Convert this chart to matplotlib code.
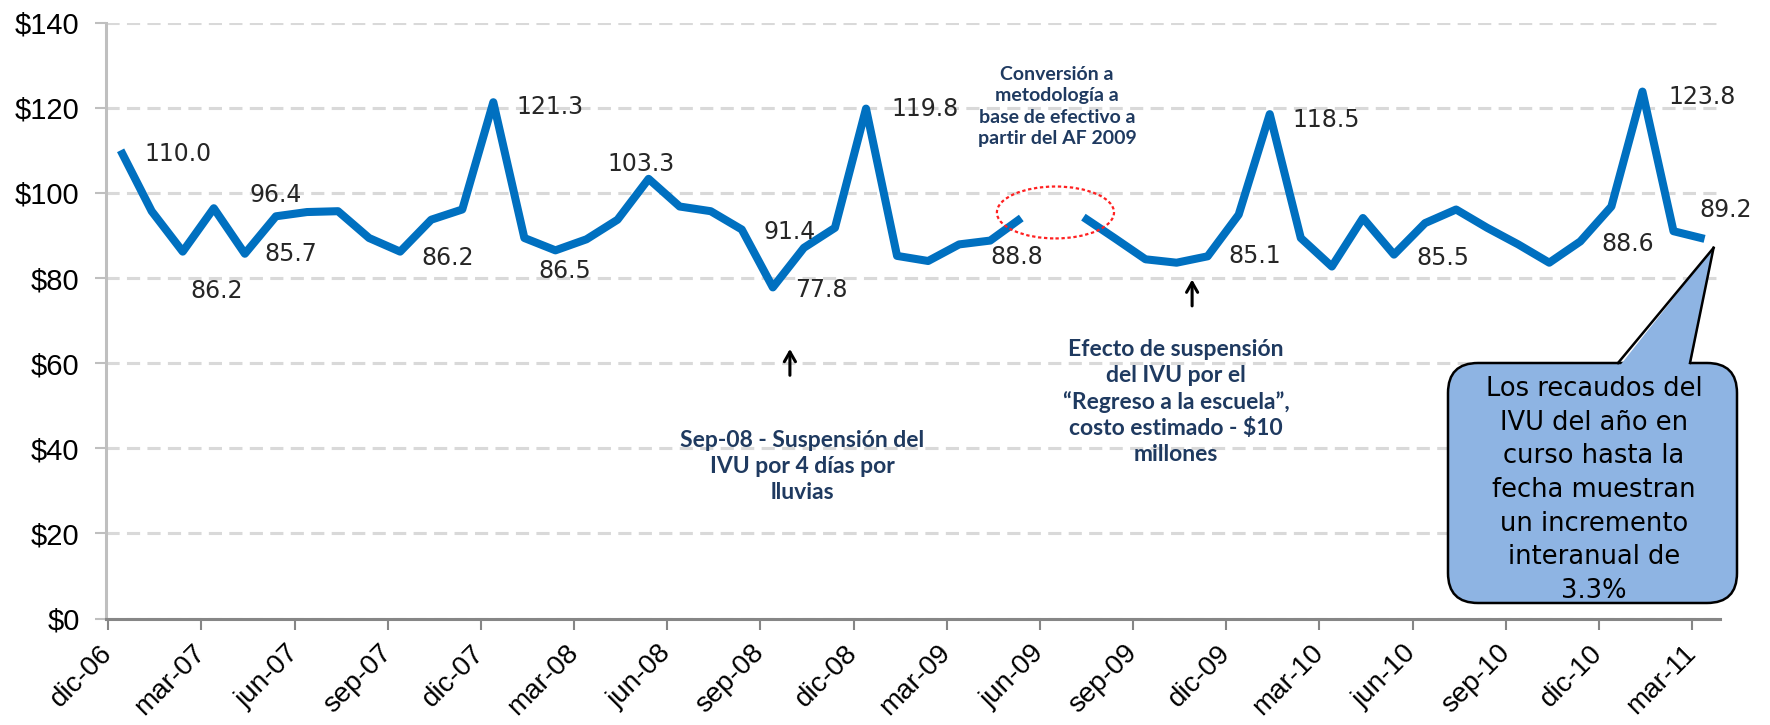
import numpy as np
import matplotlib
matplotlib.use("Agg")
import matplotlib.pyplot as plt
from matplotlib.patches import Ellipse, FancyBboxPatch, Polygon
from matplotlib.lines import Line2D
from matplotlib.transforms import IdentityTransform

# Recaudos mensuales del IVU (millones $), dic-06 .. mar-11; jul-09 sin dato
recaudos = [110.0, 95.7, 86.2, 96.4, 85.7, 94.5, 95.5, 95.7, 89.4, 86.2, 93.7, 96.1,
            121.3, 89.4, 86.5, 89.1, 93.7, 103.3, 96.8, 95.7, 91.4, 77.8, 87.1, 91.8,
            119.8, 85.2, 84.0, 87.9, 88.8, 94.1, np.nan, 94.3, 89.4, 84.4, 83.6, 85.1,
            94.9, 118.5, 89.4, 82.7, 94.1, 85.5, 92.9, 96.1, 91.8, 87.9, 83.6, 88.6,
            96.8, 123.8, 91.0, 89.2]

meses = ['dic-06', 'mar-07', 'jun-07', 'sep-07', 'dic-07', 'mar-08', 'jun-08',
         'sep-08', 'dic-08', 'mar-09', 'jun-09', 'sep-09', 'dic-09', 'mar-10',
         'jun-10', 'sep-10', 'dic-10', 'mar-11']

y_ticks = [0, 20, 40, 60, 80, 100, 120, 140]

# puntos con etiqueta de valor
etiquetados = [0, 2, 3, 4, 9, 12, 14, 17, 20, 21, 24, 28, 35, 37, 41, 47, 49, 51]

# desplazamiento de cada etiqueta (pixeles)
offsets = {0: (24, -4), 2: (8, -39), 3: (36, 13), 4: (20, 0), 9: (21, -6),
           12: (23, -5), 14: (-17, -21), 17: (-41, 15), 20: (22, -3),
           21: (22, -3), 24: (25, 0), 28: (0, -16), 35: (21, 0), 37: (23, -6),
           41: (22, -3), 47: (21, -3), 49: (26, -5), 51: (-5, 29)}

plt.rcParams['font.family'] = ['Liberation Sans', 'DejaVu Sans']
NAVY = '#1F3A60'
H = 725

fig = plt.figure(figsize=(17.7, 7.25), dpi=100)
ax = fig.add_axes([0.0599, 0.1468, 0.9119, 0.822])

x = np.arange(len(recaudos))
ax.plot(x, recaudos, color='#0070C0', lw=5.8, solid_joinstyle='round',
        solid_capstyle='butt', zorder=3)

for i in etiquetados:
    ax.annotate(f'{recaudos[i]:.1f}', xy=(x[i], recaudos[i]), xytext=offsets[i],
                textcoords='offset pixels', ha='left', va='center',
                fontsize=17, family='DejaVu Sans', color='#262626', zorder=4)

ax.set_xlim(-0.47, 51.5)
ax.set_ylim(0, 140)
ax.set_yticks(y_ticks)
ax.set_yticklabels([f'${v}' for v in y_ticks], fontsize=21)
ax.set_xticks(np.arange(0, len(recaudos), 3) - 0.4)
ax.set_xticklabels(meses, fontsize=20, rotation=45, ha='right',
                   va='center', rotation_mode='anchor')

ax.set_axisbelow(True)
ax.yaxis.grid(True, color='#D9D9D9', lw=2.2, ls=(0, (4.3, 2.4)))
for s in ('top', 'right'):
    ax.spines[s].set_visible(False)
ax.spines['left'].set_color('#BFBFBF')
ax.spines['left'].set_linewidth(2.2)
ax.spines['bottom'].set_color('#868686')
ax.spines['bottom'].set_linewidth(2.2)
ax.tick_params(axis='y', length=8, width=1.5, color='#BFBFBF', pad=11)
ax.tick_params(axis='x', length=8, width=1.5, color='#868686', pad=14)

# circulo rojo del cambio de metodologia
ax.add_patch(Ellipse((30.1, 95.4), 3.77, 12.2, fill=False, ec='#FF2020',
                     ls=(0, (1.5, 1.2)), lw=1.6, zorder=5))

ax.text(30.15, 120.3, 'Conversión a\nmetodología a\nbase de efectivo a\npartir del AF 2009',
        ha='center', va='center', fontsize=14, family='Lato', fontweight='bold',
        color=NAVY, linespacing=1.3)
ax.text(21.94, 35.8, 'Sep-08 - Suspensión del\nIVU por 4 días por\nlluvias',
        ha='center', va='center', fontsize=16.5, family='Lato', fontweight='bold',
        color=NAVY, linespacing=1.3)
ax.text(33.98, 50.9, 'Efecto de suspensión\ndel IVU por el\n“Regreso a la escuela”,\n'
        'costo estimado - $10\nmillones',
        ha='center', va='center', fontsize=16.5, family='Lato', fontweight='bold',
        color=NAVY, linespacing=1.3)

arrow = dict(arrowstyle='->,head_length=0.7,head_width=0.4', color='black', lw=2.2)
ax.annotate('', xy=(21.55, 64.0), xytext=(21.55, 56.5), arrowprops=arrow)
ax.annotate('', xy=(34.5, 80.3), xytext=(34.5, 72.8), arrowprops=arrow)

# globo de texto
pix = IdentityTransform()
box = FancyBboxPatch((1448, H - 603), 289, 240,
                     boxstyle='round,pad=0,rounding_size=30', transform=pix,
                     fc='#8EB4E3', ec='black', lw=1.8, zorder=6)
fig.add_artist(box)
tip = ax.transData.transform((x[-1], recaudos[-1])) + np.array([9, -9])
fig.add_artist(Polygon([(1618, H - 368), tuple(tip), (1690, H - 368)],
                       closed=True, transform=pix, fc='#8EB4E3', ec='none', zorder=7))
fig.add_artist(Line2D([1618, tip[0]], [H - 363, tip[1]], transform=pix,
                      color='black', lw=1.8, zorder=8))
fig.add_artist(Line2D([1690, tip[0]], [H - 363, tip[1]], transform=pix,
                      color='black', lw=1.8, zorder=8))
t = fig.text(1594, H - 490, 'Los recaudos del\nIVU del año en\ncurso hasta la\n'
             'fecha muestran\nun incremento\ninteranual de\n3.3%',
             transform=pix, ha='center', va='center', fontsize=18.5,
             family='DejaVu Sans', color='black', linespacing=1.38, zorder=9)
t.set_clip_path(box)

fig.savefig('out.png', dpi=100)
